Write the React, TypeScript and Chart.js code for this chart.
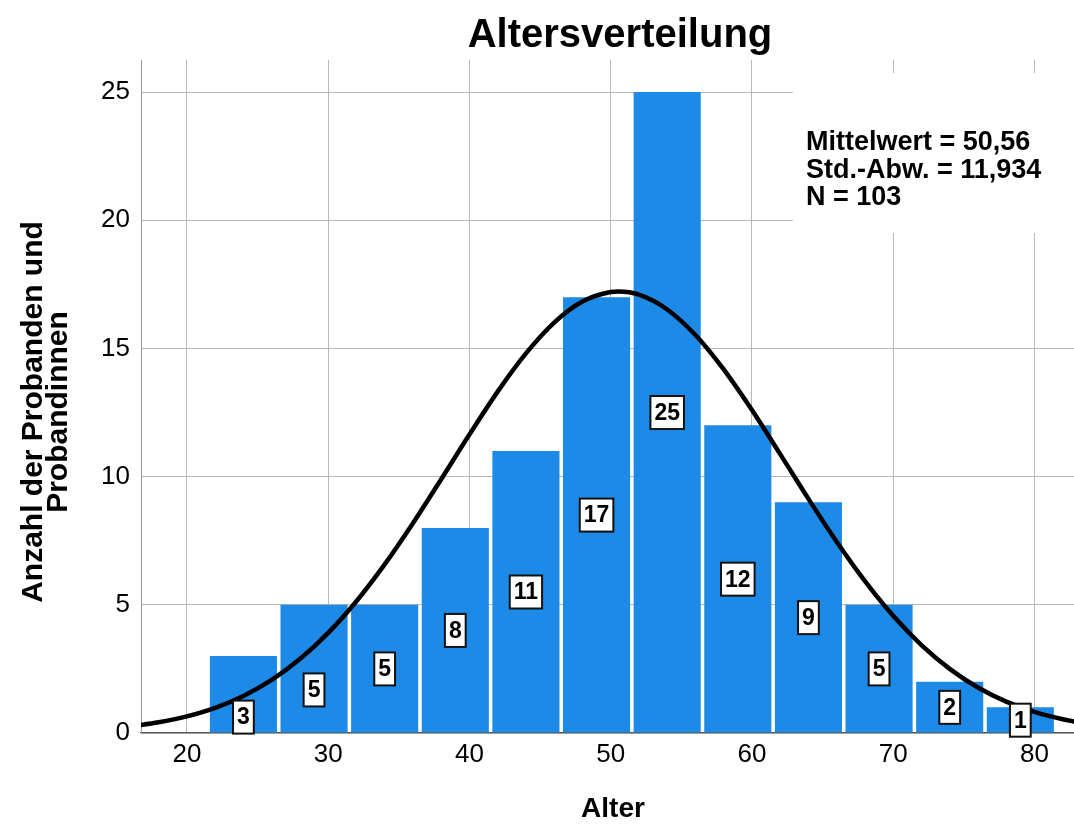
import React, { useEffect, useRef } from 'react';
import { Chart, registerables } from 'chart.js';

Chart.register(...registerables);

// ---- data ----
const binCenters = [24, 29, 34, 39, 44, 49, 54, 59, 64, 69, 74, 79];
const counts = [3, 5, 5, 8, 11, 17, 25, 12, 9, 5, 2, 1];
const labelAt = [0.62, 1.68, 2.5, 4, 5.5, 8.5, 12.5, 6, 4.5, 2.5, 1, 0.5];
const curveX = [16, 18, 20, 22, 24, 26, 28, 30, 32, 34, 36, 38, 40, 42, 44, 46, 48, 50, 50.56, 52, 54, 56, 58, 60, 62, 64, 66, 68, 70, 72, 74, 76, 78, 80, 82, 84];
const curveY = [0.26, 0.416, 0.649, 0.982, 1.447, 2.072, 2.884, 3.903, 5.138, 6.575, 8.181, 9.898, 11.641, 13.315, 14.805, 16.008, 16.828, 17.201, 17.22, 17.095, 16.519, 15.521, 14.179, 12.595, 10.876, 9.133, 7.457, 5.92, 4.569, 3.429, 2.503, 1.775, 1.2245, 0.8216, 0.5356, 0.3396];
const xTicks = [20, 30, 40, 50, 60, 70, 80];
const yTicks = [0, 5, 10, 15, 20, 25];
const statsLines = ['Mittelwert = 50,56', 'Std.-Abw. = 11,934', 'N = 103'];
const titleText = 'Altersverteilung';
const xTitle = 'Alter';
const yTitleLines = ['Anzahl der Probanden und', 'Probandinnen'];

const FONT = '"Liberation Sans", Arial, sans-serif';
const BAR = 'rgb(28,138,230)';
const GRID = '#b8b8b8';

const overlay = {
  id: 'overlay',
  beforeDatasetsDraw(chart: any) {
    const ctx = chart.ctx;
    const area = chart.chartArea;
    ctx.save();
    ctx.fillStyle = '#fff';
    ctx.fillRect(793, 73, area.right - 793 + 2, 160);
    ctx.fillStyle = '#000';
    ctx.font = `bold 27px ${FONT}`;
    ctx.textAlign = 'left';
    ctx.textBaseline = 'alphabetic';
    statsLines.forEach((t, i) => ctx.fillText(t, 806, 150 + i * 27.5));
    ctx.restore();
  },
  afterDatasetsDraw(chart: any) {
    const ctx = chart.ctx;
    const xs = chart.scales.x;
    const ys = chart.scales.y;
    ctx.save();
    ctx.font = `bold 23px ${FONT}`;
    ctx.textAlign = 'center';
    ctx.textBaseline = 'middle';
    counts.forEach((c, i) => {
      const t = String(c);
      const cx = xs.getPixelForValue(binCenters[i]);
      const cy = ys.getPixelForValue(labelAt[i]);
      const w = ctx.measureText(t).width + 8;
      const h = 33;
      ctx.fillStyle = '#fff';
      ctx.fillRect(cx - w / 2, cy - h / 2, w, h);
      ctx.strokeStyle = '#111';
      ctx.lineWidth = 2;
      ctx.strokeRect(cx - w / 2, cy - h / 2, w, h);
      ctx.fillStyle = '#000';
      ctx.fillText(t, cx, cy + 1);
    });
    ctx.restore();
  },
  afterDraw(chart: any) {
    const ctx = chart.ctx;
    ctx.save();
    ctx.fillStyle = '#000';
    ctx.textAlign = 'center';
    ctx.textBaseline = 'alphabetic';
    ctx.font = `bold 40px ${FONT}`;
    ctx.fillText(titleText, 620, 47);
    ctx.font = `bold 28px ${FONT}`;
    ctx.fillText(xTitle, 613, 817);
    ctx.translate(42, 412);
    ctx.rotate(-Math.PI / 2);
    ctx.font = `bold 30px ${FONT}`;
    yTitleLines.forEach((t, i) => ctx.fillText(t, 0, i * 25));
    ctx.restore();
  },
};

export default function App() {
  const ref = useRef<HTMLCanvasElement | null>(null);
  useEffect(() => {
    if (!ref.current) return;
    const chart = new Chart(ref.current, {
      type: 'bar',
      data: {
        datasets: [
          {
            type: 'line',
            data: curveX.map((x, i) => ({ x, y: curveY[i] })),
            borderColor: '#000',
            borderWidth: 4.5,
            pointRadius: 0,
            cubicInterpolationMode: 'monotone',
            fill: false,
            order: 0,
          } as any,
          {
            type: 'bar',
            data: binCenters.map((x, i) => ({ x, y: counts[i] })),
            backgroundColor: BAR,
            barPercentage: 0.95,
            categoryPercentage: 1,
            order: 1,
          } as any,
        ],
      },
      options: {
        responsive: false,
        animation: false,
        layout: { padding: { top: 60, left: 0, right: 0, bottom: 0 } },
        plugins: {
          legend: { display: false },
          tooltip: { enabled: false },
          title: { display: false },
        },
        scales: {
          x: {
            type: 'linear',
            min: 16.75,
            max: 82.8,
            offset: false,
            grid: { offset: false, color: GRID, lineWidth: 1, drawTicks: false },
            border: { color: '#555', width: 1.2 },
            ticks: {
              color: '#000',
              font: { family: FONT, size: 26 },
              padding: 6,
              maxRotation: 0,
              autoSkip: false,
            },
            afterBuildTicks: (ax: any) => {
              ax.ticks = xTicks.map((v) => ({ value: v }));
            },
            afterFit: (s: any) => {
              s.height = 92;
            },
          },
          y: {
            type: 'linear',
            min: 0,
            max: 26.25,
            grid: { color: GRID, lineWidth: 1, drawTicks: false },
            border: { color: '#999', width: 1 },
            ticks: {
              color: '#000',
              font: { family: FONT, size: 26 },
              padding: 11,
            },
            afterBuildTicks: (ax: any) => {
              ax.ticks = yTicks.map((v) => ({ value: v }));
            },
            afterFit: (s: any) => {
              s.width = 141;
            },
          },
        },
      } as any,
      plugins: [overlay],
    });
    return () => chart.destroy();
  }, []);
  return (
    <div style={{ position: 'fixed', left: 0, top: 0, width: 1074, height: 825, background: '#fff' }}>
      <canvas ref={ref} width={1074} height={825} style={{ display: 'block', width: 1074, height: 825 }} />
    </div>
  );
}
